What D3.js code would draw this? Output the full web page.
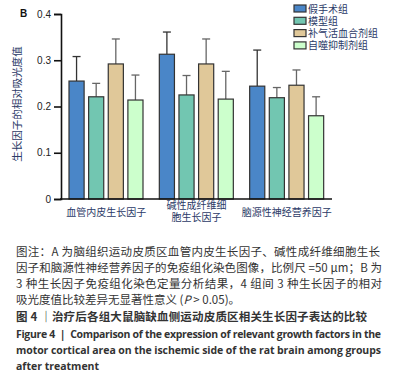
<!DOCTYPE html>
<html>
<head>
<meta charset="utf-8">
<script src="https://cdn.jsdelivr.net/npm/d3@7"></script>
<style>
  body { margin: 0; background: #fff; }
  svg text { font-family: "Noto Sans CJK SC", "Noto Sans", sans-serif; }
</style>
</head>
<body>
<svg width="403" height="386"></svg>
<script>
var factors = ['血管内皮生长因子', '碱性成纤维细胞生长因子', '脑源性神经营养因子'];
var factorLines = [['血管内皮生长因子'], ['碱性成纤维细', '胞生长因子'], ['脑源性神经营养因子']];
var groups = ['假手术组', '模型组', '补气活血合剂组', '自噬抑制剂组'];
var colors = ['#4a86c8', '#72c6b1', '#e0c899', '#ccffcc'];

// mean values per factor, order of groups
var sham = [0.255, 0.313, 0.244];
var model = [0.221, 0.225, 0.219];
var herbal = [0.292, 0.292, 0.246];
var inhibitor = [0.214, 0.216, 0.180];
// upper end of error bars
var shamErr = [0.308, 0.361, 0.322];
var modelErr = [0.250, 0.267, 0.241];
var herbalErr = [0.346, 0.346, 0.279];
var inhibitorErr = [0.268, 0.276, 0.221];

var yTicks = [0, 0.1, 0.2, 0.3, 0.4];

var means = [sham, model, herbal, inhibitor];
var errs = [shamErr, modelErr, herbalErr, inhibitorErr];

var svg = d3.select('svg');

var x0 = d3.scaleBand().domain(factors).range([61, 332]);
var x1 = d3.scaleBand().domain(groups).range([8, 82]).paddingInner(0.23);
var y = d3.scaleLinear().domain([0, 0.4]).range([199, 14]);

var rows = [];
factors.forEach(function(f, i) {
  groups.forEach(function(g, j) {
    rows.push({ f: f, g: g, j: j, v: means[j][i], e: errs[j][i] });
  });
});

// error bars behind bars
var eb = svg.append('g').selectAll('g').data(rows).enter().append('g')
  .attr('stroke', function(d) { return (d.j === 0) ? '#333' : '#666'; })
  .attr('stroke-width', 1.3);
eb.append('line')
  .attr('x1', function(d) { return x0(d.f) + x1(d.g) + x1.bandwidth() / 2; })
  .attr('x2', function(d) { return x0(d.f) + x1(d.g) + x1.bandwidth() / 2; })
  .attr('y1', function(d) { return y(d.v); })
  .attr('y2', function(d) { return y(d.e); });
eb.append('line')
  .attr('x1', function(d) { return x0(d.f) + x1(d.g) + x1.bandwidth() / 2 - 4; })
  .attr('x2', function(d) { return x0(d.f) + x1(d.g) + x1.bandwidth() / 2 + 4; })
  .attr('y1', function(d) { return y(d.e); })
  .attr('y2', function(d) { return y(d.e); });

svg.append('g').selectAll('rect').data(rows).enter().append('rect')
  .attr('x', function(d) { return x0(d.f) + x1(d.g); })
  .attr('y', function(d) { return y(d.v); })
  .attr('width', x1.bandwidth())
  .attr('height', function(d) { return y(0) - y(d.v); })
  .attr('fill', function(d) { return colors[d.j]; })
  .attr('stroke', '#333')
  .attr('stroke-width', 1.2);

// y axis
var yAxis = svg.append('g')
  .attr('transform', 'translate(61,0)')
  .call(d3.axisLeft(y).tickValues(yTicks).tickSize(7).tickPadding(3)
    .tickFormat(function(d) { return d === 0 ? '0' : d3.format('.1f')(d); }));
yAxis.select('.domain').attr('stroke', '#111').attr('stroke-width', 1.6);
yAxis.selectAll('.tick line').attr('stroke', '#111').attr('stroke-width', 1.6);
yAxis.selectAll('.tick text').attr('font-size', 10).attr('fill', '#222')
  .style('font-family', 'Liberation Sans, Arial, sans-serif');

// x axis baseline
svg.append('line').attr('x1', 60).attr('x2', 332).attr('y1', y(0)).attr('y2', y(0))
  .attr('stroke', '#111').attr('stroke-width', 1.6);

// x labels
svg.append('g').selectAll('text').data(factors).enter().append('text')
  .attr('x', function(d) { return x0(d) + x0.bandwidth() / 2; })
  .attr('y', function(d, i) { return factorLines[i].length > 1 ? 209 : 216; })
  .attr('text-anchor', 'middle')
  .attr('font-size', 10)
  .attr('fill', '#2b3a67')
  .each(function(d, i) {
    var t = d3.select(this);
    factorLines[i].forEach(function(s, k) {
      t.append('tspan').attr('x', x0(d) + x0.bandwidth() / 2).attr('dy', k === 0 ? 0 : 12).text(s);
    });
  });

// y title
svg.append('text')
  .attr('transform', 'translate(21,104) rotate(-90)')
  .attr('text-anchor', 'middle')
  .attr('font-size', 10.5)
  .attr('fill', '#2b3a67')
  .text('生长因子的相对吸光度值');

svg.append('text').attr('x', 20).attr('y', 17).attr('font-size', 10).attr('font-weight', 'bold')
  .attr('fill', '#111').style('font-family', 'Liberation Sans, Arial, sans-serif').text('B');

// legend
var lg = svg.append('g').selectAll('g').data(groups).enter().append('g')
  .attr('transform', function(d, i) { return 'translate(294,' + (5 + i * 12.3) + ')'; });
lg.append('rect').attr('width', 12).attr('height', 7)
  .attr('fill', function(d, i) { return colors[i]; })
  .attr('stroke', '#333').attr('stroke-width', 1.2);
lg.append('text').attr('x', 14).attr('y', 7.5).attr('font-size', 10)
  .attr('fill', '#2b3a67').text(function(d) { return d; });

// caption
var note = [
  '图注：A 为脑组织运动皮质区血管内皮生长因子、碱性成纤维细胞生长',
  '因子和脑源性神经营养因子的免疫组化染色图像，比例尺 =50 μm；B 为',
  '3 种生长因子免疫组化染色定量分析结果，4 组间 3 种生长因子的相对'
];
var noteLen = [364, 366, 366];
svg.append('g').selectAll('text').data(note).enter().append('text')
  .attr('x', 16).attr('y', function(d, i) { return 256 + i * 16; })
  .attr('font-size', 11.5).attr('fill', '#333')
  .attr('textLength', function(d, i) { return noteLen[i]; }).attr('lengthAdjust', 'spacing')
  .text(function(d) { return d; });
var last = svg.append('text').attr('x', 16).attr('y', 304).attr('font-size', 11.5).attr('fill', '#333');
last.append('tspan').text('吸光度值比较差异无显著性意义 (');
last.append('tspan').attr('font-style', 'italic').text('P');
last.append('tspan').text(' > 0.05)。');

svg.append('text').attr('x', 16).attr('y', 321).attr('font-size', 11.5).attr('fill', '#333')
  .attr('font-weight', 'bold').attr('textLength', 351).attr('lengthAdjust', 'spacing')
  .text('图 4 ｜治疗后各组大鼠脑缺血侧运动皮质区相关生长因子表达的比较');

var eng = [
  'Figure 4  |  Comparison of the expression of relevant growth factors in the',
  'motor cortical area on the ischemic side of the rat brain among groups',
  'after treatment'
];
var engLen = [365, 365, 0];
svg.append('g').selectAll('text').data(eng).enter().append('text')
  .attr('x', 16).attr('y', function(d, i) { return 338 + i * 16; })
  .attr('font-size', 10.5).attr('font-weight', 'bold').attr('fill', '#333')
  .style('font-family', 'Open Sans, sans-serif')
  .style('white-space', 'pre')
  .each(function(d, i) { if (engLen[i]) d3.select(this).attr('textLength', engLen[i]).attr('lengthAdjust', 'spacing'); })
  .text(function(d) { return d; });
</script>
</body>
</html>
